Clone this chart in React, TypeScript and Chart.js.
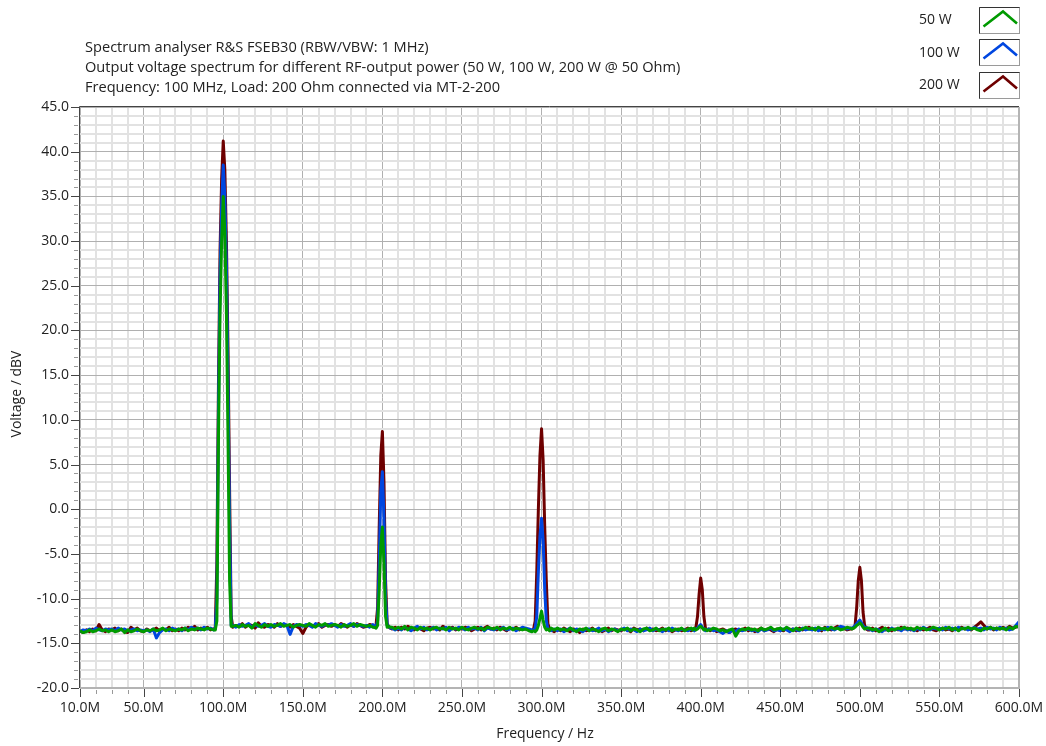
import { useEffect, useRef } from 'react';
import { Chart, registerables } from 'chart.js';

Chart.register(...registerables);

const FONT_FAMILY = '"Open Sans", "Noto Sans", sans-serif';

const TITLE_LINES = [
  'Spectrum analyser R&S FSEB30 (RBW/VBW: 1 MHz)',
  'Output voltage spectrum for different RF-output power (50 W, 100 W, 200 W @ 50 Ohm)',
  'Frequency: 100 MHz, Load: 200 Ohm connected via MT-2-200',
];
const X_TITLE = 'Frequency / Hz';
const Y_TITLE = 'Voltage / dBV';

const SERIES_LABELS = ['50 W', '100 W', '200 W'];
const SERIES_COLORS = ['#009a00', '#0046e0', '#6e0000'];

const X_LABEL_TICKS = [10, 50, 100, 150, 200, 250, 300, 350, 400, 450, 500, 550, 600];
const Y_LABEL_TICKS = [-20, -15, -10, -5, 0, 5, 10, 15, 20, 25, 30, 35, 40, 45];
const X_MINOR_STEP = 10;
const Y_MINOR_STEP = 1;

// baseline trace: frequencies 10 MHz .. 600 MHz in 2 MHz steps
const BASE_START = 10;
const BASE_STEP = 2;
// harmonics: finer 1 MHz samples from h-5 .. h+5
const HARMONICS = [100, 200, 300, 400, 500];
const PEAK_HALF = 5;

const BASE_50W = [
  -13.6, -13.8, -13.7, -13.5, -13.7, -13.6, -13.4, -13.6, -13.5, -13.7,
  -13.5, -13.7, -13.6, -13.4, -13.8, -13.5, -13.7, -13.6, -13.4, -13.6,
  -13.7, -13.5, -13.6, -13.4, -13.6, -13.5, -13.3, -13.6, -13.4, -13.5,
  -13.6, -13.4, -13.5, -13.3, -13.6, -13.4, -13.5, -13.3, -13.4, -13.5,
  -13.3, -13.4, -13.5, -13.4, -13.4, -13.4, -13.4, -13.4, -13.1, -13.0,
  -13.2, -12.9, -13.1, -13.0, -13.3, -12.8, -13.0, -13.2, -12.9, -13.1,
  -12.9, -13.1, -13.0, -12.8, -13.1, -13.0, -12.9, -13.2, -13.0, -12.9,
  -13.0, -13.1, -12.8, -13.0, -13.2, -12.9, -13.0, -12.8, -13.1, -13.0,
  -12.9, -13.0, -13.2, -12.9, -13.1, -13.0, -12.8, -13.1, -12.9, -13.0,
  -13.1, -13.0, -13.2, -13.2, -13.2, -13.2, -13.2, -13.2, -13.2, -13.4,
  -13.2, -13.4, -13.1, -13.5, -13.2, -13.3, -13.5, -13.2, -13.4, -13.3,
  -13.5, -13.3, -13.2, -13.4, -13.3, -13.5, -13.2, -13.4, -13.3, -13.5,
  -13.2, -13.4, -13.5, -13.3, -13.2, -13.4, -13.3, -13.5, -13.2, -13.3,
  -13.4, -13.2, -13.5, -13.3, -13.4, -13.2, -13.5, -13.3, -13.4, -13.5,
  -13.4, -13.6, -13.7, -13.5, -13.5, -13.5, -13.5, -13.5, -13.3, -13.5,
  -13.3, -13.5, -13.4, -13.6, -13.3, -13.5, -13.7, -13.4, -13.5, -13.3,
  -13.6, -13.4, -13.5, -13.7, -13.4, -13.3, -13.6, -13.4, -13.5, -13.7,
  -13.4, -13.5, -13.3, -13.6, -13.4, -13.5, -13.7, -13.4, -13.3, -13.6,
  -13.5, -13.3, -13.6, -13.4, -13.5, -13.3, -13.6, -13.4, -13.5, -13.3,
  -13.6, -13.4, -13.3, -13.3, -13.3, -13.3, -13.3, -13.3, -13.5, -13.3,
  -13.4, -13.6, -13.5, -13.7, -13.5, -13.4, -14.2, -13.6, -13.4, -13.5,
  -13.3, -13.5, -13.4, -13.6, -13.3, -13.5, -13.4, -13.2, -13.5, -13.4,
  -13.3, -13.5, -13.2, -13.4, -13.6, -13.3, -13.5, -13.4, -13.2, -13.4,
  -13.3, -13.5, -13.2, -13.4, -13.3, -13.5, -13.2, -13.4, -13.3, -13.5,
  -13.4, -13.2, -13.3, -13.3, -13.3, -13.3, -13.3, -13.3, -13.3, -13.5,
  -13.4, -13.7, -13.5, -13.3, -13.6, -13.4, -13.5, -13.3, -13.4, -13.2,
  -13.4, -13.3, -13.5, -13.2, -13.4, -13.3, -13.5, -13.4, -13.2, -13.3,
  -13.5, -13.3, -13.4, -13.2, -13.5, -13.3, -13.6, -13.3, -13.4, -13.2,
  -13.4, -13.3, -13.5, -13.6, -13.3, -13.4, -13.2, -13.4, -13.3, -13.4,
  -13.3, -13.5, -13.2, -13.4, -13.1, -13.2,
];

const BASE_100W = [
  -13.7, -13.5, -13.6, -13.4, -13.6, -13.3, -13.5, -13.6, -13.4, -13.5,
  -13.4, -13.6, -13.3, -13.5, -13.4, -13.6, -13.5, -13.4, -13.6, -13.5,
  -13.6, -13.5, -13.7, -13.4, -14.4, -13.8, -13.5, -13.4, -13.6, -13.3,
  -13.5, -13.4, -13.6, -13.3, -13.5, -13.2, -13.4, -13.3, -13.5, -13.2,
  -13.4, -13.3, -13.5, -13.3, -13.3, -13.3, -13.3, -13.3, -13.0, -13.2,
  -12.9, -13.1, -13.0, -12.8, -13.2, -12.9, -13.1, -13.0, -12.8, -13.1,
  -13.2, -12.9, -13.0, -13.1, -12.8, -13.0, -14.0, -13.1, -12.9, -13.0,
  -13.1, -12.9, -13.0, -13.2, -12.8, -13.0, -13.1, -12.9, -13.0, -12.8,
  -13.0, -13.2, -12.9, -13.1, -13.0, -12.8, -13.1, -12.9, -13.0, -13.1,
  -13.0, -13.2, -12.9, -13.0, -13.0, -13.0, -13.0, -13.0, -13.3, -13.5,
  -13.3, -13.5, -13.2, -13.4, -13.6, -13.3, -13.1, -13.4, -13.2, -13.5,
  -13.4, -13.2, -13.5, -13.3, -13.4, -13.2, -13.6, -13.3, -13.4, -13.2,
  -13.3, -13.5, -13.2, -13.4, -13.3, -13.5, -13.2, -13.6, -13.3, -13.4,
  -13.5, -13.3, -13.4, -13.2, -13.5, -13.4, -13.3, -13.6, -13.4, -13.2,
  -13.3, -13.4, -13.5, -13.5, -13.5, -13.5, -13.5, -13.5, -13.6, -13.4,
  -13.6, -13.4, -13.7, -13.5, -13.3, -13.6, -13.4, -13.5, -13.7, -13.4,
  -13.4, -13.6, -13.5, -13.3, -13.6, -13.4, -13.7, -13.5, -13.4, -13.6,
  -13.5, -13.3, -13.6, -13.4, -13.5, -13.7, -13.4, -13.6, -13.5, -13.3,
  -13.6, -13.4, -13.5, -13.7, -13.4, -13.6, -13.3, -13.5, -13.6, -13.4,
  -13.5, -13.6, -13.4, -13.5, -13.5, -13.5, -13.5, -13.5, -13.4, -13.6,
  -13.5, -13.7, -13.9, -13.6, -13.8, -13.5, -13.7, -13.4, -13.6, -13.5,
  -13.4, -13.6, -13.5, -13.7, -13.4, -13.6, -13.5, -13.3, -13.6, -13.5,
  -13.6, -13.4, -13.5, -13.7, -13.4, -13.5, -13.6, -13.3, -13.5, -13.4,
  -13.5, -13.3, -13.6, -13.4, -13.5, -13.2, -13.4, -13.5, -13.3, -13.1,
  -13.2, -13.4, -13.3, -13.3, -13.3, -13.3, -13.3, -13.3, -13.4, -13.6,
  -13.4, -13.5, -13.7, -13.4, -13.6, -13.3, -13.5, -13.4, -13.6, -13.3,
  -13.5, -13.4, -13.6, -13.3, -13.5, -13.2, -13.4, -13.5, -13.3, -13.4,
  -13.3, -13.5, -13.2, -13.4, -13.3, -13.5, -13.2, -13.4, -13.3, -13.5,
  -13.4, -13.2, -13.4, -13.3, -13.5, -13.2, -13.4, -13.3, -13.5, -13.2,
  -13.4, -13.3, -13.5, -13.4, -13.0, -12.6,
];

const BASE_200W = [
  -13.6, -13.8, -13.5, -13.7, -13.4, -13.6, -12.9, -13.5, -13.7, -13.4,
  -13.5, -13.3, -13.6, -13.4, -13.7, -13.8, -13.2, -13.5, -13.3, -13.6,
  -13.7, -13.4, -13.6, -13.5, -13.3, -13.6, -13.4, -13.5, -13.2, -13.6,
  -13.4, -13.6, -13.3, -13.5, -13.2, -13.4, -13.1, -13.5, -13.3, -13.4,
  -13.2, -13.5, -13.4, -13.3, -13.3, -13.3, -13.3, -13.3, -13.2, -13.0,
  -13.1, -12.8, -13.2, -12.9, -13.0, -13.3, -12.7, -13.1, -13.2, -12.9,
  -13.0, -13.2, -12.8, -13.1, -12.9, -13.0, -13.2, -12.9, -13.1, -13.3,
  -13.9, -13.2, -12.9, -13.1, -13.0, -12.8, -13.2, -13.0, -12.9, -13.1,
  -12.9, -13.1, -12.8, -13.0, -13.2, -12.9, -13.1, -12.8, -13.0, -13.2,
  -13.1, -12.9, -13.0, -13.2, -13.0, -13.0, -13.0, -13.3, -13.4, -13.2,
  -13.5, -13.2, -13.4, -13.1, -13.3, -13.5, -13.2, -13.4, -13.6, -13.3,
  -13.2, -13.4, -13.3, -13.5, -13.1, -13.3, -13.4, -13.2, -13.5, -13.3,
  -13.4, -13.2, -13.3, -13.6, -13.4, -13.2, -13.5, -13.3, -13.1, -13.4,
  -13.3, -13.5, -13.2, -13.4, -13.6, -13.3, -13.4, -13.2, -13.5, -13.3,
  -13.4, -13.5, -13.6, -13.4, -13.4, -13.4, -13.4, -13.4, -13.5, -13.7,
  -13.4, -13.6, -13.3, -13.5, -13.7, -13.4, -13.5, -13.8, -13.4, -13.6,
  -13.5, -13.3, -13.6, -13.4, -13.7, -13.5, -13.3, -13.6, -13.4, -13.5,
  -13.6, -13.4, -13.5, -13.7, -13.3, -13.5, -13.4, -13.6, -13.3, -13.5,
  -13.4, -13.6, -13.5, -13.3, -13.6, -13.4, -13.7, -13.5, -13.4, -13.6,
  -13.5, -13.3, -13.6, -13.5, -13.5, -13.5, -13.5, -13.5, -13.6, -13.4,
  -13.7, -13.5, -13.4, -13.6, -13.8, -13.5, -13.4, -13.6, -13.5, -13.3,
  -13.6, -13.4, -13.7, -13.5, -13.3, -13.6, -13.4, -13.5, -13.7, -13.4,
  -13.5, -13.6, -13.3, -13.5, -13.4, -13.6, -13.3, -13.5, -13.4, -13.2,
  -13.4, -13.5, -13.3, -13.6, -13.2, -13.4, -13.5, -13.3, -13.1, -13.4,
  -13.3, -13.5, -13.4, -13.4, -13.4, -13.4, -13.4, -13.4, -13.5, -13.3,
  -13.6, -13.4, -13.2, -13.5, -13.3, -13.6, -13.4, -13.5, -13.2, -13.4,
  -13.3, -13.5, -13.4, -13.6, -13.3, -13.5, -13.4, -13.2, -13.5, -13.6,
  -13.4, -13.3, -13.5, -13.4, -13.6, -13.3, -13.5, -13.2, -13.4, -13.3,
  -13.5, -13.2, -12.9, -12.6, -13.0, -13.4, -13.2, -13.5, -13.3, -13.4,
  -13.2, -13.4, -13.1, -13.3, -13.2, -13.0,
];

// peak windows (1 MHz steps, h-5 .. h+5) for 100, 200, 300, 400, 500 MHz
const PEAKS_50W = [
  [-13.5, -12.5, 8, 22, 30, 35, 31, 22, 8, -8, -13.1],
  [-13.2, -13.3, -13.0, -9, -4, -2, -6, -12, -13.2, -13.1, -13.2],
  [-13.6, -13.7, -13.5, -13.0, -12.2, -11.4, -12.4, -13.2, -13.5, -13.4, -13.6],
  [-13.5, -13.3, -13.5, -13.4, -13.2, -13.1, -13.3, -13.5, -13.4, -13.6, -13.5],
  [-13.4, -13.3, -13.2, -13.0, -12.9, -12.7, -12.9, -13.2, -13.4, -13.3, -13.3],
];
const PEAKS_100W = [
  [-13.4, -10, 11, 26, 34, 38.5, 35, 27, 14, -2, -13.0],
  [-13.1, -13.2, -12.5, -6, 2, 4.2, -1, -10, -13.0, -13.1, -13.3],
  [-13.5, -13.3, -12.0, -7, -3, -1, -3.5, -9, -12.5, -13.4, -13.5],
  [-13.4, -13.6, -13.4, -13.3, -13.1, -12.9, -13.2, -13.4, -13.6, -13.5, -13.4],
  [-13.3, -13.2, -13.0, -12.8, -12.6, -12.4, -12.7, -13.0, -13.3, -13.2, -13.4],
];
const PEAKS_200W = [
  [-13.3, -6, 14, 29, 37, 41.2, 38, 30, 18, 2, -12.0],
  [-13.2, -13.0, -11, -2, 6, 8.7, 3, -8, -12.8, -13.2, -13.3],
  [-13.4, -12.5, -7, 0, 6, 9, 5.5, -2, -8, -12.8, -13.4],
  [-13.5, -13.4, -13.2, -12.0, -9.5, -7.7, -9, -12.0, -13.3, -13.5, -13.4],
  [-13.4, -13.3, -13.0, -11, -8, -6.5, -8, -11.5, -13.0, -13.4, -13.5],
];

function buildSeries(base: number[], peaks: number[][]) {
  const pts: { x: number; y: number }[] = [];
  base.forEach((y, i) => {
    const x = BASE_START + i * BASE_STEP;
    const inPeak = HARMONICS.some((h) => x >= h - PEAK_HALF && x <= h + PEAK_HALF);
    if (!inPeak) pts.push({ x, y });
  });
  HARMONICS.forEach((h, k) => {
    peaks[k].forEach((y, j) => pts.push({ x: h - PEAK_HALF + j, y }));
  });
  pts.sort((a, b) => a.x - b.x);
  return pts;
}

const X_MIN = X_LABEL_TICKS[0];
const X_MAX = X_LABEL_TICKS[X_LABEL_TICKS.length - 1];
const Y_MIN = Y_LABEL_TICKS[0];
const Y_MAX = Y_LABEL_TICKS[Y_LABEL_TICKS.length - 1];

function stepValues(min: number, max: number, step: number) {
  const out: number[] = [];
  for (let v = min; v <= max + 1e-9; v += step) out.push(Math.round(v * 100) / 100);
  return out;
}
const X_TICK_VALUES = stepValues(X_MIN, X_MAX, X_MINOR_STEP);
const Y_TICK_VALUES = stepValues(Y_MIN, Y_MAX, Y_MINOR_STEP);

const decorPlugin = {
  id: 'decor',
  afterDraw(chart: any) {
    const { ctx, chartArea } = chart;
    const { left, right, top, bottom } = chartArea;
    const xs = chart.scales.x;
    const ys = chart.scales.y;
    ctx.save();

    // frame
    ctx.lineWidth = 2;
    ctx.strokeStyle = '#b4b4b4';
    ctx.beginPath();
    ctx.moveTo(right, top);
    ctx.lineTo(right, bottom);
    ctx.moveTo(left, bottom);
    ctx.lineTo(right + 1, bottom);
    ctx.stroke();
    ctx.lineWidth = 1;
    ctx.strokeStyle = '#444';
    ctx.beginPath();
    ctx.moveTo(left - 0.5, bottom);
    ctx.lineTo(left - 0.5, top - 0.5);
    ctx.lineTo(right, top - 0.5);
    ctx.stroke();

    // x tick marks
    X_TICK_VALUES.forEach((v) => {
      const px = Math.round(xs.getPixelForValue(v)) + 0.5;
      const major = X_LABEL_TICKS.includes(v);
      ctx.strokeStyle = major ? '#444' : '#999';
      ctx.lineWidth = 1;
      ctx.beginPath();
      ctx.moveTo(px, bottom + (major ? 1 : 2));
      ctx.lineTo(px, bottom + (major ? 9 : 6));
      ctx.stroke();
    });
    // y tick marks
    Y_TICK_VALUES.forEach((v) => {
      const py = Math.round(ys.getPixelForValue(v)) + 0.5;
      const major = Y_LABEL_TICKS.includes(v);
      ctx.strokeStyle = major ? '#444' : '#999';
      ctx.lineWidth = 1;
      ctx.beginPath();
      ctx.moveTo(left - (major ? 9 : 6), py);
      ctx.lineTo(left - (major ? 1 : 2), py);
      ctx.stroke();
    });

    // titles
    ctx.fillStyle = '#222';
    ctx.font = `14.6px ${FONT_FAMILY}`;
    ctx.textAlign = 'left';
    ctx.textBaseline = 'alphabetic';
    TITLE_LINES.forEach((t, i) => ctx.fillText(t, 85, 52 + 20 * i));

    // axis titles
    ctx.font = `14px ${FONT_FAMILY}`;
    ctx.textAlign = 'center';
    ctx.textBaseline = 'middle';
    ctx.fillText(X_TITLE, 545, 734);
    ctx.save();
    ctx.translate(17, 394);
    ctx.rotate(-Math.PI / 2);
    ctx.fillText(Y_TITLE, 0, 0);
    ctx.restore();

    // legend
    SERIES_LABELS.forEach((label, i) => {
      const cy = 20.5 + 32.3 * i;
      ctx.fillStyle = '#222';
      ctx.textAlign = 'left';
      ctx.textBaseline = 'middle';
      ctx.fillText(label, 919, cy);
      const bx = 979.5;
      const by = Math.round(cy - 13.5) + 0.5;
      const bw = 40;
      const bh = 26;
      ctx.fillStyle = '#ffffff';
      ctx.fillRect(bx, by, bw, bh);
      ctx.lineWidth = 1;
      ctx.strokeStyle = '#9a9a9a';
      ctx.strokeRect(bx, by, bw, bh);
      ctx.strokeStyle = '#333';
      ctx.beginPath();
      ctx.moveTo(bx, by + bh);
      ctx.lineTo(bx, by);
      ctx.lineTo(bx + bw, by);
      ctx.stroke();
      ctx.strokeStyle = SERIES_COLORS[i];
      ctx.lineWidth = 2.6;
      ctx.lineJoin = 'miter';
      ctx.beginPath();
      ctx.moveTo(bx + 4, by + 19);
      ctx.lineTo(bx + 23.5, by + 4);
      ctx.lineTo(bx + 37.5, by + 16);
      ctx.stroke();
    });

    ctx.restore();
  },
};

export default function App() {
  const canvasRef = useRef<HTMLCanvasElement | null>(null);

  useEffect(() => {
    if (!canvasRef.current) return;
    const seriesData = [
      buildSeries(BASE_50W, PEAKS_50W),
      buildSeries(BASE_100W, PEAKS_100W),
      buildSeries(BASE_200W, PEAKS_200W),
    ];
    const chart = new Chart(canvasRef.current, {
      type: 'line',
      data: {
        datasets: SERIES_LABELS.map((label, i) => ({
          label,
          data: seriesData[i],
          borderColor: SERIES_COLORS[i],
          backgroundColor: SERIES_COLORS[i],
          borderWidth: 3,
          pointRadius: 0,
          tension: 0,
          borderJoinStyle: 'round' as const,
          fill: false,
        })),
      },
      options: {
        animation: false,
        responsive: false,
        events: [],
        layout: { padding: { top: 107, right: 27, bottom: 0, left: 0 } },
        plugins: {
          legend: { display: false },
          tooltip: { enabled: false },
          title: { display: false },
        },
        scales: {
          x: {
            type: 'linear',
            min: X_MIN,
            max: X_MAX,
            afterBuildTicks: (s: any) => {
              s.ticks = X_TICK_VALUES.map((value) => ({ value }));
            },
            afterFit: (s: any) => {
              s.height = 58;
              s.paddingLeft = 0;
              s.paddingRight = 0;
            },
            ticks: {
              autoSkip: false,
              maxRotation: 0,
              padding: 12,
              color: '#222',
              font: { family: FONT_FAMILY, size: 14 },
              callback: (v: any) => (X_LABEL_TICKS.includes(Number(v)) ? `${Number(v).toFixed(1)}M` : ''),
            },
            grid: {
              drawTicks: false,
              color: (c: any) => (X_LABEL_TICKS.includes(c.tick?.value) ? '#b0b0b0' : '#e2e2e2'),
              lineWidth: (c: any) => (X_LABEL_TICKS.includes(c.tick?.value) ? 1 : 2),
            },
            border: { display: false },
          },
          y: {
            type: 'linear',
            min: Y_MIN,
            max: Y_MAX,
            afterBuildTicks: (s: any) => {
              s.ticks = Y_TICK_VALUES.map((value) => ({ value }));
            },
            afterFit: (s: any) => {
              s.width = 80;
              s.paddingTop = 0;
              s.paddingBottom = 0;
            },
            ticks: {
              autoSkip: false,
              padding: 11,
              color: '#222',
              font: { family: FONT_FAMILY, size: 14 },
              callback: (v: any) => (Y_LABEL_TICKS.includes(Number(v)) ? Number(v).toFixed(1) : ''),
            },
            grid: {
              drawTicks: false,
              color: (c: any) => (Y_LABEL_TICKS.includes(c.tick?.value) ? '#b0b0b0' : '#e2e2e2'),
              lineWidth: (c: any) => (Y_LABEL_TICKS.includes(c.tick?.value) ? 1 : 2),
            },
            border: { display: false },
          },
        },
      },
      plugins: [decorPlugin],
    });
    return () => chart.destroy();
  }, []);

  return (
    <div style={{ position: 'fixed', left: 0, top: 0, width: 1046, height: 746, background: '#fff' }}>
      <canvas ref={canvasRef} width={1046} height={746} style={{ width: 1046, height: 746, display: 'block' }} />
    </div>
  );
}
